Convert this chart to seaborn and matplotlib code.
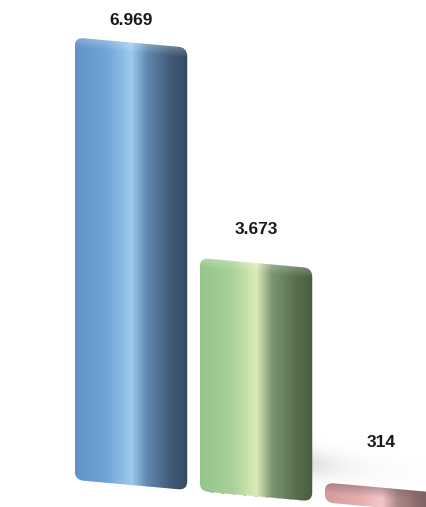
import numpy as np
import matplotlib
matplotlib.use("Agg")
import matplotlib.pyplot as plt
import seaborn as sns
from matplotlib.colors import LinearSegmentedColormap, to_rgb
from matplotlib.patches import FancyBboxPatch
from matplotlib.transforms import Affine2D

categories = ["A", "B", "C"]
values = [6969, 3673, 314]
value_labels = ["6.969", "3.673", "314"]

# left -> highlight -> dark right shading for each bar
bar_shades = [
    ["#6092c8", "#72a4d8", "#9ccbee", "#6088b0", "#405a76", "#364b62"],
    ["#96c589", "#a8d197", "#dcebb6", "#7a9570", "#58704f", "#4a5d42"],
    ["#d49c9c", "#e0acac", "#f4c8c8", "#ad8a8a", "#866868", "#735858"],
]
shade_stops = [0.0, 0.28, 0.5, 0.64, 0.85, 1.0]
bevel_colors = ["#ffffff", "#ffffff", "#7a5c64"]
bevel_strength = [0.25, 0.25, 0.45]

sns.set_theme(style="white")
plt.rcParams["font.family"] = ["Liberation Sans", "DejaVu Sans"]

fig = plt.figure(figsize=(4.27, 5.07), dpi=100)
ax = fig.add_axes([0, 0, 1, 1])

sns.barplot(x=categories, y=values, hue=categories, palette=["#6a9ad0", "#a8cf98", "#d8a8a8"],
            width=0.9, legend=False, ax=ax)

px_x = 125.0      # pixels per category step
px_y = 0.0635     # pixels per value unit
x_left = -131 / px_x
y_bot = -22 / px_y
ax.set_xlim(x_left, x_left + 427 / px_x)
ax.set_ylim(y_bot, y_bot + 507 / px_y)
ax.axis("off")

# perspective: floor drops towards the right
slope = 0.09
x_ref = ax.transData.transform((0, 0))[0]
skew = Affine2D.from_values(1, -slope, 0, 1, 0, slope * x_ref)
tr = ax.transData + skew

aspect = px_x / px_y
bars = list(ax.patches)

# soft floor shadow to the right of the middle bar
patch = bars[1]
x1 = patch.get_x() + patch.get_width()
sx = np.linspace(0, 1, 120)
sy = np.linspace(-1, 1, 60)
fade = np.exp(-4 * sx)[None, :] * np.exp(-(sy[:, None] / 0.5) ** 2)
sh = np.zeros((60, 120, 4))
sh[..., :3] = 0.5
sh[..., 3] = 0.3 * fade
ax.imshow(sh, extent=[x1 - 0.05, x1 + 1.0, 10 / px_y, 65 / px_y],
          origin="upper", aspect="auto", interpolation="bicubic", transform=tr, zorder=0.5)

for patch, shades, bc, bs, lab, v in zip(bars, bar_shades, bevel_colors, bevel_strength,
                                         value_labels, values):
    x0, y0 = patch.get_x(), patch.get_y()
    w, h = patch.get_width(), patch.get_height()
    patch.set_visible(False)
    box = FancyBboxPatch((x0, y0), w, h, boxstyle="round,pad=0,rounding_size=0.07",
                         mutation_aspect=aspect, facecolor="none", edgecolor="none",
                         transform=tr)
    ax.add_patch(box)
    cmap = LinearSegmentedColormap.from_list("s", list(zip(shade_stops, shades)))
    cols = cmap(np.linspace(0, 1, 200))[:, :3]
    npx = max(int(h * px_y), 4)
    grad = np.repeat(cols[None, :, :], npx, axis=0)
    # bevel on the top edge, about 10 px deep
    depth = np.arange(npx)[:, None, None]
    bev = np.clip(1 - depth / 10.0, 0, 1) * bs
    grad = grad * (1 - bev) + np.array(to_rgb(bc)) * bev
    im = ax.imshow(grad, extent=[x0, x0 + w, y0, y0 + h], origin="upper",
                   aspect="auto", interpolation="bilinear", transform=tr, zorder=2)
    im.set_clip_path(box)
    ax.annotate(lab, xy=(x0 + w / 2, v), xycoords="data", xytext=(0, 16),
                textcoords="offset points", ha="center", va="center",
                fontsize=12.5, fontweight="bold", color="#1a1a1a", zorder=3)

ax.set_xlim(x_left, x_left + 427 / px_x)
ax.set_ylim(y_bot, y_bot + 507 / px_y)

fig.savefig("out.png", dpi=100)
